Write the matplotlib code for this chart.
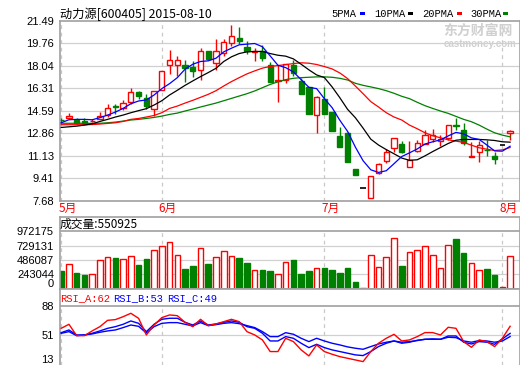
import matplotlib
matplotlib.use('Agg')
import matplotlib.pyplot as plt
from matplotlib.patches import Rectangle
import numpy as np

# ---------------- data ----------------
opens  = [13.89,14.02,13.89,13.81,13.78,13.97,14.22,14.97,14.76,15.25,
          16.05,15.58,14.69,16.19,18.10,18.07,18.10,17.95,17.69,19.15,
          18.25,19.05,19.79,20.20,19.49,19.08,19.20,18.10,16.85,16.97,
          18.10,16.83,16.37,14.29,15.51,14.50,12.68,12.90,10.10,8.69,
          7.90,9.82,10.72,11.72,12.02,10.30,11.48,12.04,12.43,12.25,
          12.50,13.48,13.11,11.03,11.44,11.58,11.10,11.92,12.84]
highs  = [14.05,14.38,14.05,14.02,13.92,14.48,15.12,15.12,15.43,16.35,
          16.08,15.89,16.10,17.65,19.25,18.82,18.51,18.36,19.36,19.15,
          20.05,20.05,21.13,20.97,19.90,19.41,19.62,18.30,18.10,18.18,
          18.50,17.08,16.41,15.68,16.37,14.52,13.35,12.92,10.10,8.69,
          9.56,10.55,11.61,12.50,12.28,12.28,12.30,13.10,13.15,12.71,
          13.50,13.99,13.65,12.20,12.23,12.30,11.40,11.92,13.07]
lows   = [13.71,14.02,13.53,13.58,13.75,13.97,14.12,14.30,14.66,15.12,
          15.46,14.74,14.15,16.19,17.43,17.25,16.77,17.20,16.92,18.48,
          17.74,18.77,19.54,19.69,18.97,18.38,18.41,16.77,15.22,16.72,
          17.25,15.84,14.32,12.89,14.30,13.00,11.79,10.62,9.66,8.69,
          7.90,9.76,10.58,11.40,11.33,10.28,11.40,12.02,12.20,11.86,
          12.30,13.12,11.95,11.02,10.67,11.09,10.48,11.92,12.35]
closes = [13.85,14.17,13.64,13.64,13.80,14.17,14.82,14.84,15.17,16.02,
          15.69,14.94,16.10,17.65,18.46,18.48,17.89,17.66,19.20,18.54,
          19.18,19.87,20.28,19.92,19.18,19.13,18.60,16.77,16.95,18.18,
          17.50,15.85,14.34,15.67,14.30,13.00,11.79,10.62,9.66,8.69,
          9.56,10.47,11.41,12.50,11.38,10.84,12.08,12.75,12.69,12.38,
          13.49,13.40,12.13,11.08,11.95,11.55,10.85,11.92,13.02]

ma5  = [13.66,13.89,13.92,13.92,13.89,14.05,14.25,14.48,14.76,15.12,
        15.33,15.41,15.79,16.28,16.66,17.12,17.77,18.15,18.36,18.41,
        18.61,19.10,19.38,19.64,19.69,19.74,19.49,18.79,18.07,17.89,
        17.56,16.97,16.38,16.28,15.51,14.82,13.85,13.00,11.80,10.75,
        10.05,9.85,9.98,10.52,11.07,11.35,11.65,12.03,12.20,12.35,
        12.65,12.92,12.81,12.50,12.38,11.95,11.50,11.48,11.86]
ma10 = [13.30,13.35,13.40,13.48,13.58,13.76,13.92,14.10,14.25,14.43,
        14.59,14.74,15.02,15.35,15.79,16.15,16.53,16.87,17.20,17.51,
        17.84,18.36,18.72,18.97,19.10,19.13,19.13,18.97,18.84,18.77,
        18.56,18.15,17.72,17.33,17.13,16.41,15.58,14.69,14.05,13.25,
        12.40,11.95,11.60,11.28,10.95,10.78,10.82,11.12,11.45,11.76,
        12.07,12.32,12.38,12.38,12.38,12.35,12.30,12.20,12.17]
ma20 = [13.51,13.51,13.51,13.51,13.52,13.56,13.61,13.66,13.76,13.92,
        13.99,14.10,14.22,14.43,14.76,14.94,15.17,15.38,15.61,15.84,
        16.12,16.48,16.82,17.12,17.41,17.64,17.85,17.98,18.05,18.12,
        18.20,18.26,18.23,18.13,17.97,17.79,17.48,17.05,16.48,15.89,
        15.28,14.87,14.43,14.10,13.87,13.48,13.20,12.89,12.66,12.51,
        12.35,12.25,12.15,11.94,11.74,11.63,11.53,11.58,11.76]
ma30 = [13.62,13.62,13.62,13.62,13.61,13.62,13.66,13.71,13.79,13.87,
        13.92,13.99,14.07,14.17,14.30,14.40,14.56,14.71,14.87,15.02,
        15.17,15.35,15.53,15.71,15.89,16.10,16.35,16.60,16.80,16.97,
        17.07,17.12,17.15,17.18,17.18,17.15,17.07,16.94,16.69,16.53,
        16.41,16.28,16.12,15.92,15.69,15.51,15.23,14.97,14.76,14.56,
        14.38,14.15,13.92,13.74,13.48,13.17,12.89,12.71,12.58]

volumes = [302e3,414e3,268e3,235e3,246e3,486e3,531e3,520e3,503e3,548e3,
           402e3,503e3,648e3,715e3,782e3,565e3,335e3,385e3,682e3,419e3,
           531e3,632e3,548e3,520e3,436e3,313e3,318e3,302e3,246e3,447e3,
           486e3,251e3,302e3,347e3,358e3,318e3,274e3,358e3,123e3,22e3,
           570e3,369e3,531e3,849e3,385e3,615e3,654e3,715e3,565e3,347e3,
           732e3,838e3,603e3,431e3,313e3,335e3,229e3,34e3,550925]

rsi_a = [59.4,64.5,50.1,50.1,56.1,61.5,69.5,70.4,74.1,78.4,
         72.0,51.0,63.6,72.9,76.3,75.4,67.0,61.5,70.8,62.8,
         64.9,67.8,70.8,67.8,55.2,51.0,44.7,30.0,30.0,46.8,
         42.6,32.1,24.5,38.4,30.0,26.6,23.6,21.5,19.4,17.3,
         30.0,40.5,46.8,51.8,43.4,44.7,48.9,54.0,54.0,51.0,
         60.7,59.4,42.6,35.4,44.7,42.6,36.3,46.8,62.0]
rsi_b = [53.9,57.3,51.0,51.0,53.1,56.1,59.4,61.5,64.5,68.7,
         65.7,55.2,64.5,70.8,72.1,72.1,67.0,63.6,68.7,63.6,
         64.9,67.0,68.7,67.0,61.5,59.4,53.1,43.4,43.4,48.9,
         46.8,40.5,35.0,39.2,35.0,32.1,30.0,27.9,25.8,24.9,
         30.0,36.3,40.5,43.4,40.5,41.8,44.3,45.5,46.0,45.5,
         49.7,49.7,41.8,39.6,42.6,41.8,39.2,46.0,53.0]
rsi_c = [53.1,55.2,50.1,51.0,52.3,54.4,56.1,57.3,60.3,63.6,
         61.9,53.5,61.5,65.7,66.6,66.6,64.5,62.4,66.6,62.8,
         64.0,65.7,66.6,65.3,62.8,60.3,55.2,48.9,48.9,53.9,
         51.9,46.8,42.6,46.8,43.4,40.5,38.4,35.9,34.2,32.9,
         36.3,39.6,41.8,43.4,41.8,42.6,43.9,45.5,45.5,45.5,
         48.1,47.6,43.4,41.8,43.9,43.4,41.8,43.4,49.0]

price_ticks = [7.68, 9.41, 11.13, 12.86, 14.59, 16.31, 18.04, 19.76, 21.49]
price_labels = ['7.68', '9.41', '11.13', '12.86', '14.59', '16.31', '18.04', '19.76', '21.49']
vol_ticks = [0, 243044, 486087, 729131, 972175]
vol_labels = ['0', '243044', '486087', '729131', '972175']
rsi_ticks = [13, 51, 88]
rsi_labels = ['13', '51', '88']
month_idx = [0, 13, 34, 57]
month_labels = ['5月', '6月', '7月', '8月']

title = '动力源[600405] 2015-08-10'
vol_title = '成交量:550925'
rsi_titles = ['RSI_A:62', 'RSI_B:53', 'RSI_C:49']
legend_names = ['5PMA', '10PMA', '20PMA', '30PMA']

# ---------------- style ----------------
W, H = 520, 365
RED, GREEN, BLUE, BLACK = '#ff0000', '#008000', '#0000ff', '#000000'
SPINE = '#a0a0a0'
GRID = '#d0d0d0'
CJK = ['Noto Sans CJK SC', 'DejaVu Sans']
NUMF = ['Liberation Sans', 'DejaVu Sans']
MONO = ['Liberation Mono', 'DejaVu Sans Mono']

fig = plt.figure(figsize=(W / 100, H / 100), dpi=100)
fig.patch.set_facecolor('white')

def rect(x0, y0, x1, y1):
    return [x0 / W, 1 - y1 / H, (x1 - x0) / W, (y1 - y0) / H]

def fx(px):
    return px / W

def fy(py):
    return 1 - py / H

n = len(closes)
x = np.arange(n)
XL = (-1.7 / 7.74, (519.5 - 61.2) / 7.74)
BW = 0.68

def style_axes(ax, spines=('left', 'right', 'top', 'bottom')):
    for s in ['left', 'right', 'top', 'bottom']:
        ax.spines[s].set_visible(s in spines)
        ax.spines[s].set_color(SPINE)
        ax.spines[s].set_linewidth(1.2)
    ax.tick_params(length=0, pad=4, labelsize=8, colors='black')
    ax.set_xticks([])
    ax.set_xlim(*XL)

# ---------------- main price panel ----------------
ax = fig.add_axes(rect(59.5, 20.7, 519.5, 200.7))
ax.set_ylim(7.68, 21.49)
ax.set_yticks(price_ticks)
ax.set_yticklabels(price_labels, family=NUMF)
for t in price_ticks[1:-1]:
    ax.axhline(t, color=GRID, lw=0.9, zorder=0)
for mi in month_idx:
    ax.axvline(mi, color='#c8c8c8', lw=0.9, ls=(0, (3, 3)), zorder=0)
style_axes(ax)

for i in range(n):
    o, h, l, c = opens[i], highs[i], lows[i], closes[i]
    if abs(c - o) < 1e-9:
        ax.hlines(c, i - BW / 2, i + BW / 2, color=BLACK, lw=1.2, zorder=2)
    elif c > o:
        ax.vlines(i, c, h, color=RED, lw=1, zorder=2)
        ax.vlines(i, l, o, color=RED, lw=1, zorder=2)
        ax.add_patch(Rectangle((i - BW / 2, o), BW, max(c - o, 0.02), facecolor='white',
                               edgecolor=RED, lw=1, zorder=2))
    else:
        ax.vlines(i, l, h, color=GREEN, lw=1, zorder=2)
        ax.add_patch(Rectangle((i - BW / 2, c), BW, max(o - c, 0.02), facecolor=GREEN,
                               edgecolor=GREEN, lw=1, zorder=2))

ax.plot(x, ma30, color=GREEN, lw=0.9, zorder=3)
ax.plot(x, ma20, color=RED, lw=0.9, zorder=3)
ax.plot(x, ma10, color=BLACK, lw=0.9, zorder=3)
ax.plot(x, ma5, color=BLUE, lw=0.9, zorder=3)

# month labels
for mi, ml in zip(month_idx, month_labels):
    px = 61.2 + 7.74 * mi
    fig.text(fx(px - 3), fy(208), ml, color=RED, fontsize=8.5, family=CJK,
             ha='left', va='center')

# title and legend
fig.text(fx(60), fy(14), title, fontsize=8.8, family=CJK, ha='left', va='center')
leg_x = [331, 374, 422, 470]
leg_col = [BLUE, BLACK, RED, GREEN]
leg_mark = [360, 408, 457, 503]
for name, lx, col, mx in zip(legend_names, leg_x, leg_col, leg_mark):
    fig.text(fx(lx), fy(14), name, fontsize=7.5, family=MONO, ha='left', va='center')
    fig.patches.append(Rectangle((fx(mx), fy(15)), 5 / W, 3 / H, transform=fig.transFigure,
                                 facecolor=col, edgecolor='none'))

# watermark
fig.text(fx(478), fy(31), '东方财富网', fontsize=10, family=CJK, color='#d0d0d0',
         ha='center', va='center', weight='bold')
fig.text(fx(480), fy(44), 'eastmoney.com', fontsize=7, family=NUMF, color='#d0d0d0',
         ha='center', va='center', weight='bold')

# ---------------- volume panel ----------------
VTOP = 972175 + (231 - 216.7) * 972175 / 58.0
axv = fig.add_axes(rect(59.5, 216.7, 519.5, 289))
axv.set_ylim(0, VTOP)
axv.set_yticks(vol_ticks)
axv.set_yticklabels(vol_labels, family=NUMF)
for t in vol_ticks[1:-1]:
    axv.axhline(t, color=GRID, lw=0.9, zorder=0)
axv.axhline(vol_ticks[-1], color=SPINE, lw=1.2, zorder=1)
for mi in month_idx:
    axv.plot([mi, mi], [0, vol_ticks[-1]], color='#c8c8c8', lw=0.9, ls=(0, (3, 3)), zorder=0)
style_axes(axv)
ylab = axv.get_yticklabels()
ylab[0].set_va('bottom')
for i in range(n):
    up = closes[i] >= opens[i]
    if up:
        axv.add_patch(Rectangle((i - 0.36, 0), 0.72, volumes[i], facecolor='white' if volumes[i] > 60e3 else RED,
                                edgecolor=RED, lw=1, zorder=2))
    else:
        axv.add_patch(Rectangle((i - 0.36, 0), 0.72, volumes[i], facecolor=GREEN,
                                edgecolor=GREEN, lw=1, zorder=2))
fig.text(fx(60), fy(224.5), vol_title, fontsize=8.5, family=CJK, ha='left', va='center')

# ---------------- RSI panel ----------------
RTOP = 88 + (305.7 - 289) * 75 / 59.3
axr = fig.add_axes(rect(59.5, 289, 519.5, 365))
axr.set_ylim(13, RTOP)
axr.set_yticks(rsi_ticks)
axr.set_yticklabels(rsi_labels, family=NUMF)
axr.axhline(51, color=GRID, lw=0.9, zorder=0)
axr.axhline(88, color=SPINE, lw=1.2, zorder=1)
for mi in month_idx:
    axr.plot([mi, mi], [13, 88], color='#c8c8c8', lw=0.9, ls=(0, (3, 3)), zorder=0)
style_axes(axr, spines=('left', 'right', 'top'))
rl = axr.get_yticklabels()
rl[0].set_va('bottom')
axr.plot(x, rsi_c, color=BLUE, lw=1.0, zorder=3)
axr.plot(x, rsi_b, color=BLUE, lw=1.0, zorder=3)
axr.plot(x, rsi_a, color=RED, lw=1.0, zorder=3)
rx = [60, 113, 167]
rc = [RED, BLUE, BLUE]
for t, px, col in zip(rsi_titles, rx, rc):
    fig.text(fx(px), fy(298), t, fontsize=7.5, family=MONO, color=col, ha='left', va='center')

fig.savefig('out.png', dpi=100, facecolor='white')
